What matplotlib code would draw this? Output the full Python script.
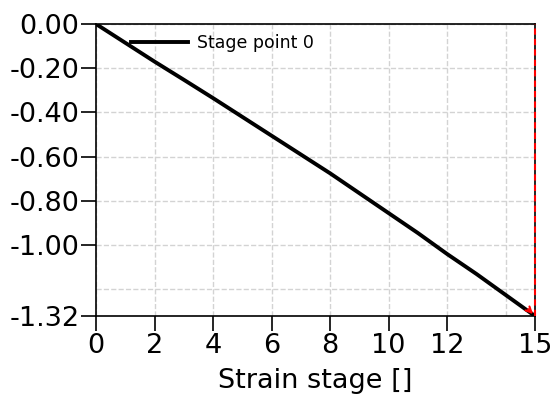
import matplotlib.pyplot as plt
import numpy as np

# strain stage vs. displacement of stage point 0
stages = [0, 1, 2, 3, 4, 5, 6, 7, 8, 9, 10, 11, 12, 13, 14, 15]
point0 = [0.0, -0.085, -0.17, -0.252, -0.335, -0.42, -0.505, -0.59,
          -0.675, -0.765, -0.855, -0.945, -1.04, -1.13, -1.225, -1.32]

xticks = [0, 2, 4, 6, 8, 10, 12, 15]
yticks = [0.0, -0.2, -0.4, -0.6, -0.8, -1.0, -1.32]
xgrid_extra = [14]
ygrid_extra = [-1.2]

plt.rcParams['font.family'] = 'DejaVu Sans'

fig = plt.figure(figsize=(5.54, 3.98), dpi=100)
ax = fig.add_axes([0.1733, 0.206, 0.7924, 0.7337])

ax.plot(stages, point0, 'k-', lw=2.8, label='Stage point 0')
ax.axvline(stages[-1], color='red', ls=(0, (3, 2)), lw=1.5, zorder=3, clip_on=False)
ax.annotate('', xy=(stages[-1], point0[-1]), xytext=(stages[-1] - 0.3, point0[-1] + 0.04),
            arrowprops=dict(arrowstyle='->', color='red', lw=1.5))

ax.set_xlim(0, 15)
ax.set_ylim(-1.32, 0)
ax.set_xticks(xticks)
ax.set_xticks(xgrid_extra, minor=True)
ax.set_yticks(yticks)
ax.set_yticks(ygrid_extra, minor=True)
ax.set_yticklabels(['%.2f' % v for v in yticks])
ax.tick_params(which='major', direction='out', length=11, width=1.2, labelsize=19.5, pad=1)
ax.tick_params(which='minor', length=0)
ax.grid(True, which='both', ls='--', color='#d3d3d3', lw=1)
for s in ax.spines.values():
    s.set_linewidth(1.2)

ax.set_xlabel('Strain stage []', fontsize=19.5, labelpad=7)
ax.legend(loc='upper left', bbox_to_anchor=(0.044, 1.018), frameon=False,
          fontsize=12.5, handlelength=3.3, handletextpad=0.5)

plt.savefig('out.png')
